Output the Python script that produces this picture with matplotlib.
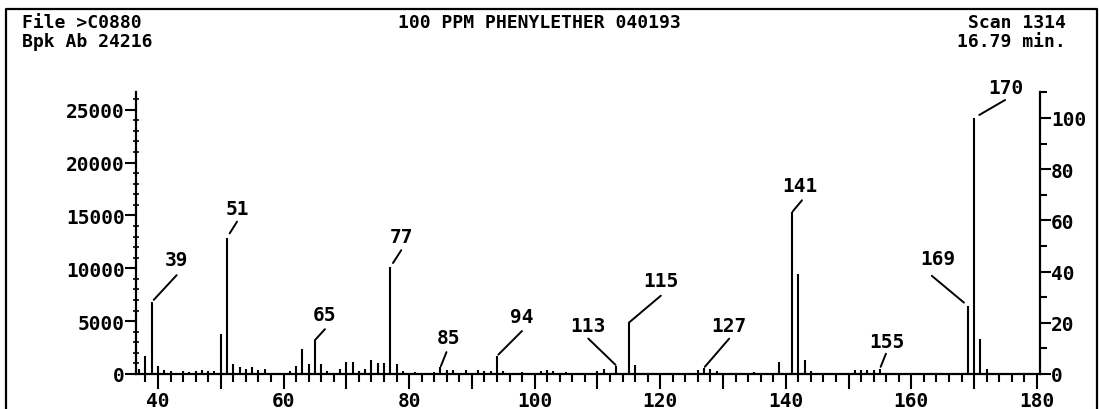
import matplotlib
matplotlib.use("Agg")
import matplotlib.pyplot as plt
from matplotlib.lines import Line2D
from matplotlib.ticker import MultipleLocator, FixedLocator, FuncFormatter

# ─────────────────── data ────────────────────

base_peak = 24216

mz = [37, 38, 39, 40, 41, 42, 44, 45, 46, 47, 48, 49, 50, 51, 52, 53, 54, 55, 56, 57,
      61, 62, 63, 64, 65, 66, 67, 69, 70, 71, 72, 73, 74, 75, 76, 77, 78, 79,
      81, 84, 85, 86, 87, 89, 91, 92, 93, 94, 95, 98, 101, 102, 103, 105,
      110, 111, 113, 115, 116, 126, 127, 128, 129, 135, 139, 141, 142, 143, 144,
      151, 152, 153, 154, 155, 169, 170, 171, 172]
abundance = [500, 1700, 6800, 800, 400, 300, 250, 200, 300, 400, 300, 300, 3800, 12900, 900, 700, 500, 650, 350, 500,
             300, 800, 2400, 950, 3200, 900, 300, 500, 1100, 1100, 300, 500, 1300, 1000, 1000, 10100, 900, 300,
             200, 200, 650, 400, 400, 350, 350, 300, 300, 1700, 300, 200, 250, 400, 300, 200,
             250, 500, 800, 4850, 850, 400, 600, 500, 300, 200, 1100, 15300, 9500, 1300, 250,
             400, 400, 400, 400, 500, 6450, 24216, 3300, 450]

labeled = [39, 51, 65, 77, 85, 94, 113, 115, 127, 141, 155, 169, 170]
# pixel offsets from peak top: leader start dy, leader end (dx, dy), label (dx, dy)
lead_start = [3, 5, 0, 5, 1, 2, 1, 0, 1, 1, 2, 5, 6]
lead_end = [(25, 27), (10, 16), (10, 11), (11, 17), (6, 15), (25, 25), (-28, 27),
            (32, 27), (25, 29), (10, 12), (6, 15), (-36, 30), (31, 18)]
label_off = [(25, 43), (10, 29), (10, 26), (11, 31), (8, 30), (25, 40), (-28, 40),
             (32, 42), (25, 42), (8, 27), (7, 27), (-30, 47), (32, 30)]

header_left = ["File >C0880", "Bpk Ab 24216"]
header_mid = "100 PPM PHENYLETHER 040193"
header_right = ["Scan 1314", "16.79 min."]

# ─────────────────── plot ────────────────────

plt.rcParams["font.family"] = "DejaVu Sans Mono"
plt.rcParams["font.weight"] = "bold"

W, H = 1100, 410
fig = plt.figure(figsize=(11, 4.1), dpi=100)
ax = fig.add_axes([136 / W, 35 / H, 904 / W, 281.6 / H])

ax.vlines(mz, 0, abundance, color="black", linewidth=1.5)
ax.set_xlim(36.5, 180.5)
ax.set_ylim(0, base_peak * 1.1)

for spine in ("top", "right"):
    ax.spines[spine].set_visible(False)
for spine in ("left", "bottom"):
    ax.spines[spine].set_linewidth(1.6)

ax.xaxis.set_major_locator(MultipleLocator(10))
ax.xaxis.set_minor_locator(MultipleLocator(2))
ax.xaxis.set_major_formatter(FuncFormatter(lambda v, p: f"{v:.0f}" if v % 20 == 0 else ""))
ax.tick_params(axis="x", which="major", direction="out", length=11, width=1.5, pad=1, labelsize=14)
ax.tick_params(axis="x", which="minor", direction="out", length=6, width=1.5)

ax.yaxis.set_major_locator(MultipleLocator(5000))
ax.yaxis.set_minor_locator(MultipleLocator(1000))
ax.tick_params(axis="y", which="major", direction="out", length=8, width=1.5, pad=0, labelsize=14)
ax.tick_params(axis="y", which="minor", direction="inout", length=4, width=1.2)

ax2 = ax.twinx()
ax2.set_ylim(0, 110)
for spine in ("top", "left", "bottom"):
    ax2.spines[spine].set_visible(False)
ax2.spines["right"].set_linewidth(1.6)
ax2.yaxis.set_major_locator(FixedLocator([0, 20, 40, 60, 80, 100]))
ax2.yaxis.set_minor_locator(FixedLocator([10, 30, 50, 70, 90, 110]))
ax2.tick_params(axis="y", which="major", direction="out", length=8, width=1.5, pad=0, labelsize=14)
ax2.tick_params(axis="y", which="minor", direction="out", length=5, width=1.5)

# peak labels with leader lines
peak_top = dict(zip(mz, abundance))
for m, s, (ex, ey), (lx, ly) in zip(labeled, lead_start, lead_end, label_off):
    top = (m, peak_top[m])
    ax.annotate("", xy=top, xycoords="data", xytext=(ex, ey), textcoords="offset pixels",
                arrowprops=dict(arrowstyle="-", lw=1.4, color="black",
                                shrinkA=0, shrinkB=s * 0.72))
    ax.annotate(str(m), xy=top, xytext=(lx, ly), textcoords="offset pixels",
                ha="center", va="center", fontsize=14, fontweight="bold")

# header
fig.text(22 / W, 1 - 23 / H, header_left[0], ha="left", va="center", fontsize=13)
fig.text(22 / W, 1 - 42 / H, header_left[1], ha="left", va="center", fontsize=13)
fig.text(539 / W, 1 - 23 / H, header_mid, ha="center", va="center", fontsize=13)
fig.text(1066 / W, 1 - 23 / H, header_right[0], ha="right", va="center", fontsize=13)
fig.text(1066 / W, 1 - 42 / H, header_right[1], ha="right", va="center", fontsize=13)

# outer frame (left, top, right; bottom runs off the page)
frame_x = [6 / W, 6 / W, 1097 / W, 1097 / W]
frame_y = [0, 1 - 10 / H, 1 - 10 / H, 0]
fig.add_artist(Line2D(frame_x, frame_y, transform=fig.transFigure, color="black", linewidth=1.6))

fig.savefig("out.png", dpi=100)
